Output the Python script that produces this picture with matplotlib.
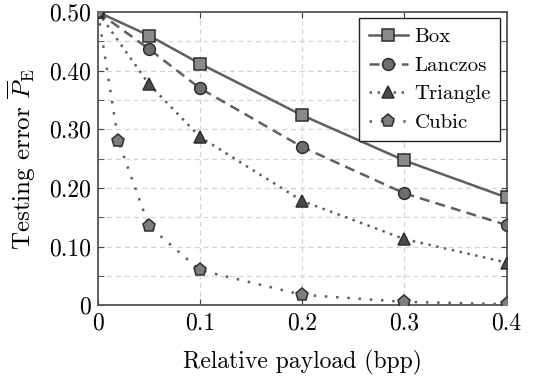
import numpy as np
import matplotlib
matplotlib.use('Agg')
import matplotlib.pyplot as plt
from matplotlib.ticker import MultipleLocator, FixedFormatter, FixedLocator

plt.rcParams['font.family'] = 'serif'
plt.rcParams['font.serif'] = ['cmr10']
plt.rcParams['mathtext.fontset'] = 'cm'
plt.rcParams['axes.formatter.use_mathtext'] = True

# data
payload = [0, 0.05, 0.1, 0.2, 0.3, 0.4]
box = [0.50, 0.460, 0.412, 0.324, 0.247, 0.184]
lanczos = [0.50, 0.437, 0.370, 0.270, 0.191, 0.137]
triangle = [0.50, 0.377, 0.287, 0.178, 0.113, 0.073]
cubic_x = [0, 0.02, 0.05, 0.1, 0.2, 0.3, 0.4]
cubic = [0.50, 0.280, 0.135, 0.060, 0.018, 0.006, 0.002]

yticks = [0, 0.1, 0.2, 0.3, 0.4, 0.5]
ylabels = ['0', '0.10', '0.20', '0.30', '0.40', '0.50']
xticks = [0, 0.1, 0.2, 0.3, 0.4]
xlabels = ['0', '0.1', '0.2', '0.3', '0.4']

fig = plt.figure(figsize=(5.47, 3.77), dpi=100)
ax = fig.add_axes([0.179, 0.19, 0.747, 0.778])

lc = '#5f5f5f'
ec = '#2e2e2e'
ax.plot(payload, box, '-', color=lc, lw=1.8, marker='s', ms=8, mfc='#8a8a8a', mec=ec, mew=1.1, label='Box', zorder=5)
ax.plot(payload, lanczos, color=lc, lw=1.8, ls=(0, (4, 2.5)), marker='o', ms=8.5, mfc='#6e6e6e', mec=ec, mew=1.1, label='Lanczos', zorder=5)
ax.plot(payload, triangle, color=lc, lw=1.8, ls=(0, (1, 2.2)), marker='^', ms=8.5, mfc='#4a4a4a', mec=ec, mew=1.1, label='Triangle', zorder=5)
ax.plot(cubic_x, cubic, color=lc, lw=1.8, ls=(0, (1, 3.5)), marker='p', ms=9.5, mfc='#7d7d7d', mec=ec, mew=1.1, label='Cubic', zorder=5)

ax.set_xlim(0, 0.4)
ax.set_ylim(0, 0.5)
ax.xaxis.set_major_locator(FixedLocator(xticks))
ax.xaxis.set_major_formatter(FixedFormatter(xlabels))
ax.yaxis.set_major_locator(FixedLocator(yticks))
ax.yaxis.set_major_formatter(FixedFormatter(ylabels))
ax.yaxis.set_minor_locator(MultipleLocator(0.05))

ax.grid(True, which='both', color='#d4d4d4', ls=(0, (4, 3)), lw=0.9)
ax.tick_params(which='both', direction='in', top=True, right=True, labelsize=17, color='#444444', length=4, pad=5)
for s in ax.spines.values():
    s.set_color('#555555')
    s.set_linewidth(1.3)

ax.set_xlabel('Relative payload (bpp)', fontsize=17, labelpad=11)
ax.set_ylabel(r'Testing error $\overline{P}_{\mathrm{E}}$', fontsize=18, labelpad=8)

leg = ax.legend(loc='upper right', fontsize=15, fancybox=False, edgecolor='#222222', framealpha=1,
                handlelength=1.9, borderpad=0.45, labelspacing=0.48, handletextpad=0.3,
                borderaxespad=0.3)
leg.get_frame().set_linewidth(1.0)

plt.savefig('out.png', dpi=100)
